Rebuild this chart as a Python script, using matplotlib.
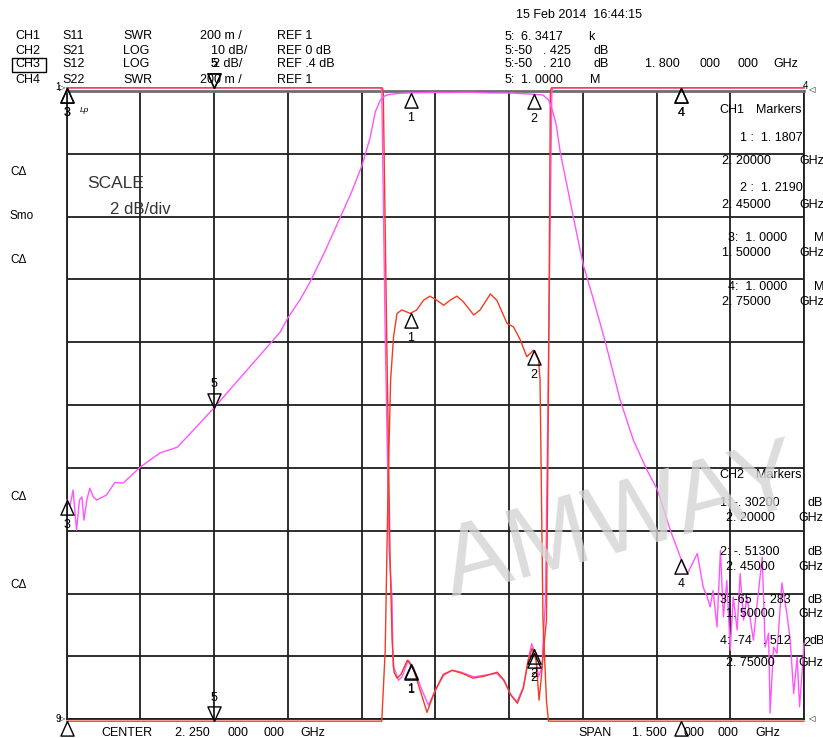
import numpy as np
import matplotlib
matplotlib.use("Agg")
import matplotlib.pyplot as plt
from matplotlib.path import Path
from matplotlib.patches import Rectangle

plt.rcParams['font.family'] = ['Liberation Sans', 'DejaVu Sans']

W, H = 823, 738
f_start, f_stop = 1.5, 3.0

# marker frequencies (GHz), markers 1..5
marker_freq = [2.20, 2.45, 1.50, 2.75, 1.80]

# CH2  S21  LOG 10 dB/div  REF 0 dB (top line)
s21_f = [1.500, 1.507, 1.513, 1.520, 1.526, 1.531, 1.535, 1.541, 1.547, 1.554,
         1.561, 1.581, 1.598, 1.615, 1.649, 1.690, 1.725, 1.761, 1.800, 1.867,
         1.934, 1.950, 1.975, 1.995, 2.025, 2.056, 2.080, 2.101, 2.117, 2.128,
         2.138, 2.148, 2.158, 2.178, 2.200, 2.239, 2.280, 2.321, 2.361, 2.402,
         2.450, 2.469, 2.480, 2.488, 2.496, 2.504, 2.531, 2.551, 2.571, 2.596,
         2.626, 2.653, 2.681, 2.702, 2.728, 2.750, 2.763, 2.783, 2.795, 2.803,
         2.809, 2.815, 2.823, 2.830, 2.836, 2.843, 2.850, 2.856, 2.864, 2.870,
         2.877, 2.884, 2.897, 2.904, 2.915, 2.921, 2.928, 2.931, 2.938, 2.945,
         2.955, 2.965, 2.972, 2.979, 2.986, 2.991, 2.996, 3.000]
s21_db = [-65.1, -65.9, -63.5, -69.9, -65.1, -64.6, -68.3, -65.1, -63.2, -64.6,
          -65.1, -64.3, -62.3, -62.4, -59.9, -57.6, -56.7, -53.7, -50.4, -44.4,
          -38.4, -36.1, -33.2, -30.4, -25.6, -20.2, -16.0, -11.8, -7.5, -3.3,
          -1.43, -0.75, -0.53, -0.37, -0.30, -0.24, -0.24, -0.20, -0.32, -0.32,
          -0.51, -0.64, -1.4, -3.0, -5.4, -9.7, -20.2, -27.7, -33.0, -40.0,
          -49.2, -55.6, -60.4, -63.5, -69.9, -74.5, -76.8, -73.6, -79.0, -80.5,
          -82.1, -79.5, -85.3, -73.1, -83.7, -77.9, -89.0, -80.5, -85.8, -76.8,
          -84.2, -80.5, -87.4, -82.1, -74.2, -88.5, -86.3, -99.0, -88.5, -89.5,
          -78.3, -83.1, -87.4, -95.9, -90.1, -98.0, -92.7, -87.9]

# CH3  S12  LOG 2 dB/div  REF .4 dB
s12_f = [1.500, 2.141, 2.148, 2.154, 2.159, 2.165, 2.172, 2.182, 2.199, 2.212,
         2.226, 2.239, 2.253, 2.267, 2.280, 2.294, 2.307, 2.328, 2.341, 2.362,
         2.375, 2.396, 2.409, 2.423, 2.436, 2.450, 2.460, 2.463, 2.466, 2.469,
         2.476, 2.480, 3.000]
s12_db = [-50.0, -50.0, -11.4, -6.0, -2.8, -1.42, -0.68, -0.57, -0.68, -0.57,
          -0.26, -0.13, -0.26, -0.42, -0.26, -0.13, -0.31, -0.73, -0.57, -0.06,
          -0.26, -1.00, -1.11, -1.53, -2.06, -1.85, -2.17, -2.80, -6.63, -10.45,
          -12.99, -50.0, -50.0]

# CH1  S11  SWR 200 m/div  REF 1 (bottom line)
s11_f = [1.500, 2.139, 2.141, 2.148, 2.156, 2.162, 2.164, 2.168, 2.175, 2.182,
         2.195, 2.205, 2.223, 2.236, 2.250, 2.267, 2.284, 2.301, 2.328, 2.348,
         2.375, 2.389, 2.402, 2.416, 2.429, 2.440, 2.446, 2.453, 2.460, 2.467,
         2.470, 2.474, 2.480, 2.487, 2.489, 3.000]
s11_swr = [8.0, 8.0, 3.0, 2.223, 1.538, 1.379, 1.167, 1.156, 1.124, 1.135,
           1.188, 1.167, 1.092, 1.045, 1.092, 1.140, 1.156, 1.151, 1.135, 1.140,
           1.146, 1.124, 1.082, 1.055, 1.103, 1.198, 1.241, 1.209, 1.135, 1.167,
           1.274, 1.379, 2.127, 3.0, 8.0, 8.0]

# CH4  S22  SWR 200 m/div  REF 1
s22_f = [1.500, 2.142, 2.144, 2.151, 2.158, 2.162, 2.166, 2.172, 2.180, 2.193,
         2.205, 2.221, 2.233, 2.248, 2.266, 2.284, 2.305, 2.327, 2.349, 2.376,
         2.390, 2.404, 2.417, 2.429, 2.439, 2.447, 2.455, 2.461, 2.465, 2.472,
         2.476, 2.480, 2.484, 2.486, 3.000]
s22_swr = [8.0, 8.0, 3.0, 2.223, 1.506, 1.252, 1.150, 1.131, 1.143, 1.188,
           1.162, 1.083, 1.022, 1.086, 1.143, 1.156, 1.146, 1.131, 1.137, 1.150,
           1.124, 1.076, 1.051, 1.099, 1.188, 1.226, 1.188, 1.061, 1.124, 1.252,
           1.315, 2.016, 3.0, 8.0, 8.0]

MAG = '#ff55ff'
RED = '#f23c22'


def log_div(db, ref, scale, refpos):
    return refpos + (np.asarray(db) - ref) / scale


def swr_div(s, ref=1.0, scale=0.2, refpos=0):
    return refpos + (np.asarray(s) - ref) / scale


def clip(d):
    return np.clip(d, -0.03, 10.05)


traces = [
    (s11_f, clip(swr_div(s11_swr)), MAG),
    (s22_f, clip(swr_div(s22_swr)), RED),
    (s12_f, clip(log_div(s12_db, 0.4, 2, 7)), RED),
    (s21_f, clip(log_div(s21_db, 0.0, 10, 10)), MAG),
]

fig = plt.figure(figsize=(W / 100, H / 100), dpi=100)
ax = fig.add_axes([66.7 / W, 18.7 / H, 737.3 / W, 628.3 / H])
ax.set_xlim(f_start, f_stop)
ax.set_ylim(0, 10)
ax.set_xticks(np.linspace(f_start, f_stop, 11))
ax.set_yticks(range(11))
ax.tick_params(length=0, labelbottom=False, labelleft=False)
ax.grid(True, color='#1e1e1e', lw=1.3)
for side in ['left', 'right', 'bottom']:
    ax.spines[side].set_color('#1e1e1e')
    ax.spines[side].set_linewidth(1.3)
ax.spines['top'].set_color('#6e6e6e')
ax.spines['top'].set_linewidth(2)

for f, d, c in traces:
    ax.plot(f, d, color=c, lw=1.0, clip_on=False, zorder=3)

# marker triangles, tip on the trace
up_tri = Path([(0, 0), (-0.45, -1), (0.45, -1), (0, 0)])
down_tri = Path([(0, 0), (-0.45, 1), (0.45, 1), (0, 0)])

for f, d, c in traces:
    for i, mf in enumerate(marker_freq):
        y = np.interp(mf, f, d)
        num = str(i + 1)
        if i == 4:
            ax.plot(mf, y, marker=down_tri, ms=21, mfc='none', mec='black',
                    mew=1.0, clip_on=False, zorder=5)
            ax.annotate(num, (mf, y), xytext=(0, 17), textcoords='offset points',
                        ha='center', va='center', fontsize=9, annotation_clip=False)
        else:
            ax.plot(mf, y, marker=up_tri, ms=21, mfc='none', mec='black',
                    mew=1.0, clip_on=False, zorder=5)
            ax.annotate(num, (mf, y), xytext=(0, -18), textcoords='offset points',
                        ha='center', va='center', fontsize=9, annotation_clip=False)


def txt(x, y, s, **kw):
    kw.setdefault('fontsize', 9)
    kw.setdefault('va', 'center')
    fig.text(x / W, 1 - y / H, s, **kw)


# header, channel setup
rows = [36, 51, 64, 80]
chans = ['CH1', 'CH2', 'CH3', 'CH4']
params = ['S11', 'S21', 'S12', 'S22']
formats = ['SWR', 'LOG', 'LOG', 'SWR']
scales = ['200 m /', '10 dB/', '2 dB/', '200 m /']
scale_x = [200, 211, 213, 200]
refs = ['REF 1', 'REF 0 dB', 'REF .4 dB', 'REF 1']
for r, ch, p, fm, sc, sx, rf in zip(rows, chans, params, formats, scales, scale_x, refs):
    txt(15, r, ch)
    txt(62, r, p)
    txt(123, r, fm)
    txt(sx, r, sc)
    txt(277, r, rf)
fig.add_artist(Rectangle((11.5 / W, 1 - 72 / H), 34.5 / W, 14.5 / H,
                         transform=fig.transFigure, fill=False, ec='black', lw=1))

txt(516, 15, '15 Feb 2014  16:44:15')
txt(505, 37, '5:')
txt(521, 37, '6. 3417')
txt(588, 37, 'k')
txt(505, 51, '5:-50')
txt(543, 51, '. 425')
txt(594, 51, 'dB')
txt(505, 64, '5:-50')
txt(543, 64, '. 210')
txt(594, 64, 'dB')
txt(645, 64, '1. 800')
txt(700, 64, '000')
txt(737, 64, '000')
txt(773, 64, 'GHz')
txt(505, 80, '5:')
txt(521, 80, '1. 0000')
txt(590, 80, 'M')

# left soft keys
for y, s in [(172, 'C\u0394'), (216, 'Smo'), (260, 'C\u0394'), (497, 'C\u0394'), (585, 'C\u0394')]:
    txt(10, y, s, fontsize=8.5)

txt(87, 183, 'SCALE', fontsize=12.5, color='#333333')
txt(110, 210, '2 dB/div', fontsize=12, color='#333333')
txt(80, 111, 'Lp', fontsize=6, style='italic')

# reference pointers at the edges
txt(55, 87, '1', fontsize=7)
txt(55, 719, '9', fontsize=7)
txt(803, 86, '4', fontsize=7)
txt(803, 643, '2', fontsize=9)
fig.text(62 / W, 1 - 89 / H, '\u25b7', fontsize=6, ha='center', va='center')
fig.text(62 / W, 1 - 720 / H, '\u25b7', fontsize=6, ha='center', va='center')
fig.text(811 / W, 1 - 91 / H, '\u25c1', fontsize=6, ha='center', va='center')
fig.text(811 / W, 1 - 720 / H, '\u25c1', fontsize=6, ha='center', va='center')

# marker tables
ch1 = [(719, 110, 'CH1'), (756, 110, 'Markers'),
       (740, 138, '1 :  1. 1807'), (722, 161, '2. 20000'), (799, 161, 'GHz'),
       (740, 188, '2 :  1. 2190'), (722, 205, '2. 45000'), (799, 205, 'GHz'),
       (728, 238, '3:  1. 0000'), (814, 238, 'M'), (722, 253, '1. 50000'), (799, 253, 'GHz'),
       (728, 287, '4:  1. 0000'), (814, 287, 'M'), (722, 302, '2. 75000'), (799, 302, 'GHz')]
ch2 = [(719, 475, 'CH2'), (756, 475, 'Markers'),
       (720, 503, '1: -. 30200'), (807, 503, 'dB'), (726, 518, '2. 20000'), (798, 518, 'GHz'),
       (720, 552, '2: -. 51300'), (807, 552, 'dB'), (726, 567, '2. 45000'), (798, 567, 'GHz'),
       (720, 600, '3: -65'), (763, 600, '. 283'), (807, 600, 'dB'),
       (726, 614, '1. 50000'), (798, 614, 'GHz'),
       (720, 641, '4: -74'), (763, 641, '. 512'), (809, 641, 'dB'),
       (726, 663, '2. 75000'), (798, 663, 'GHz')]
for x, y, s in ch1 + ch2:
    txt(x, y, s)

# bottom status line (cut off by the screen edge)
txt(101, 733, 'CENTER')
txt(175, 733, '2. 250')
txt(227, 733, '000')
txt(263, 733, '000')
txt(300, 733, 'GHz')
txt(578, 733, 'SPAN')
txt(632, 733, '1. 500')
txt(684, 733, '000')
txt(718, 733, '000')
txt(755, 733, 'GHz')

# watermark
fig.text(622 / W, 1 - 524 / H, 'AMWAY', fontsize=72, color='#d4d4d4', alpha=0.8,
         rotation=15, rotation_mode='anchor', ha='center', va='center', zorder=10)

fig.savefig('out.png', dpi=100)
